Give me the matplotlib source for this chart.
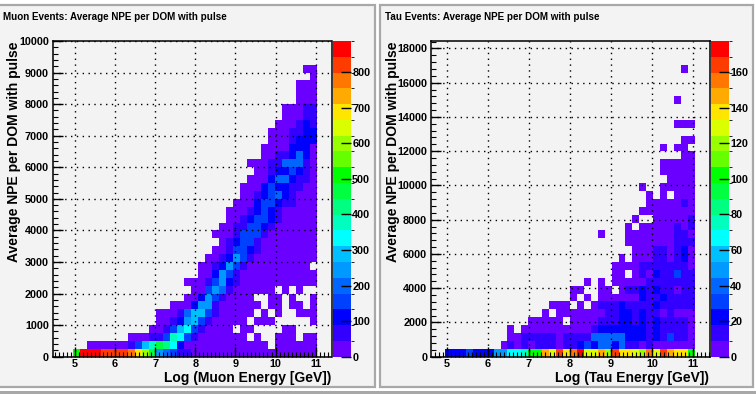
import numpy as np
import matplotlib
matplotlib.use("Agg")
import matplotlib.pyplot as plt
from matplotlib.colors import ListedColormap, BoundaryNorm
from matplotlib.patches import Rectangle
from matplotlib.ticker import MultipleLocator

W, H = 756, 394

# one char per bin = colour band (0-9 then a-j), "." = empty bin
# each row runs bottom to top, START is the first filled column of that row
MUON_START = [0, 2, 8, 11, 12, 12, 14, 16, 17, 16, 18, 18, 19, 20, 21, 20, 21, 22, 22, 23,
              24, 24, 25, 26, 25, 27, 27, 28, 28, 29, 30, 30, 32, 32, 32, 34, 33]
MUON_LEVELS = [
    "bjjjiiiihfda54311000000000000000000",
    "0000001368a972000000000000.000000",
    "00011387310000000.0..000.00",
    "001367310000.00....00...",
    "0012563100000.000.....0",
    "00014663100000.0.0..000",
    "0002551000000.00.00.0",
    "0025310000..00.0..0",
    "003541000000.0.0..",
    "0001352100000000000",
    "00253100000000000",
    "0012531000000000.",
    "0012531000000000",
    "001332100000000",
    "01233100000000",
    "000133310000000",
    "00113321000000",
    "0012332100000",
    "0001232100000",
    "000233211000",
    "00123421000",
    "00023221100",
    "0002442110",
    "001223210",
    "0001144410",
    "00112420",
    "00002220",
    "0001222",
    "0001122",
    "000121",
    "00011",
    "00011",
    "000",
    "000",
    "000",
    "0",
    "00",
]

TAU_START = [0, 8, 9, 9, 12, 14, 15, 18, 18, 20, 24, 24, 25, 27, 26, 22, 26, 27, 28, 29,
             29, 28, 32, 31, 31, 34, 31, 34, 0, 33, 0, 0, 33, 0, 0, 0, 34]
TAU_LEVELS = [
    "222322255778bbgeifhjeegdiffedheigffb",
    "0101011101123244241101000000",
    "001111101111444442221213110",
    "0.0000000000122222221211110",
    "00000.000011122121211110",
    "0.00000001122121101000",
    "000.0.011121111211111",
    "0.0.00000021121111",
    "00..00.01121211011",
    "0.0.000001111111",
    "00.010211311",
    "000011111110",
    "0.000110120",
    "000110120",
    "0000000111",
    "0...0000000110",
    "0.00000101",
    "0..000001",
    "00000000",
    "0000010",
    "0.0.000",
    "0..00000",
    "0000",
    "00000",
    "00000",
    "00",
    "0.00",
    "00",
    "",
    "000",
    "",
    "",
    "0",
    "",
    "",
    "",
    "0",
]

MUON_YTICKS = [0, 1000, 2000, 3000, 4000, 5000, 6000, 7000, 8000, 9000, 10000]
TAU_YTICKS = [0, 2000, 4000, 6000, 8000, 10000, 12000, 14000, 16000, 18000]
XTICKS = [5, 6, 7, 8, 9, 10, 11]
MUON_ZTICKS = [0, 100, 200, 300, 400, 500, 600, 700, 800]
TAU_ZTICKS = [0, 20, 40, 60, 80, 100, 120, 140, 160]

# root rainbow palette, 20 contours, bottom to top
PALETTE = ["#6a00ff", "#3300ff", "#0000ff", "#0040ff", "#0066ff", "#0099ff", "#00bfff", "#00ffff",
           "#00ffbf", "#00ff80", "#00ff40", "#00ff00", "#66ff00", "#99ff00", "#d9ff00", "#ffe600",
           "#ffaa00", "#ff7700", "#ff3c00", "#ff0000"]
LEVEL_CHARS = "0123456789abcdefghij"


def build_grid(starts, levels, zmax, ncols):
    grid = np.full((40, ncols), np.nan)
    band = zmax / 20
    for r, (start, row) in enumerate(zip(starts, levels)):
        for i, ch in enumerate(row):
            if ch != ".":
                grid[r, start + i] = (LEVEL_CHARS.index(ch) + 0.5) * band
    return grid


def px_rect(x0, y0, x1, y1):
    return [x0 / W, 1 - y1 / H, (x1 - x0) / W, (y1 - y0) / H]


def add_box(fig, x0, y0, x1, y1):
    # pad background with grey bevel, kept behind the axes
    fig.add_artist(Rectangle((x0 / W, 1 - y1 / H), (x1 - x0) / W, (y1 - y0) / H, transform=fig.transFigure,
                             facecolor="#f3f3f3", edgecolor="#a8a8a8", linewidth=1.6, zorder=-1))


def draw_panel(fig, title, title_x, xlabel, xlabel_right, ylabel_x, frame, cbar, xlim, ylim, x0, dx, dy, grid,
               yticks, yminor, zmax, zticks):
    ax = fig.add_axes(px_rect(*frame))
    ax.set_facecolor("#f3f3f3")
    cols = grid.shape[1]
    xedges = x0 + dx * np.arange(cols + 1)
    yedges = dy * np.arange(grid.shape[0] + 1)
    cmap = ListedColormap(PALETTE)
    norm = BoundaryNorm(np.linspace(0, zmax, 21), 20)
    mesh = ax.pcolormesh(xedges, yedges, grid, cmap=cmap, norm=norm, linewidth=0, antialiased=False)
    ax.set_xlim(xlim)
    ax.set_ylim(ylim)
    ax.set_xticks(XTICKS)
    ax.set_yticks(yticks)
    ax.xaxis.set_minor_locator(MultipleLocator(0.1))
    ax.yaxis.set_minor_locator(MultipleLocator(yminor))
    ax.tick_params(which="major", direction="in", length=7, width=1, pad=3, labelsize=7.8)
    ax.tick_params(which="minor", direction="in", length=3.5, width=0.8)
    ax.tick_params(axis="x", which="major", pad=1.5)
    for label in ax.get_xticklabels() + ax.get_yticklabels():
        label.set_fontweight("bold")
    ax.grid(True, which="major", color="black", linestyle=(0, (1, 3.2)), linewidth=1)
    ax.set_axisbelow(False)
    for spine in ax.spines.values():
        spine.set_linewidth(1.1)

    cax = fig.add_axes(px_rect(*cbar))
    cb = fig.colorbar(mesh, cax=cax, ticks=zticks, spacing="proportional", drawedges=False)
    cb.outline.set_visible(False)
    cax.tick_params(direction="in", length=7.5, width=1, pad=1, labelsize=7.8, right=True)
    for label in cax.get_yticklabels():
        label.set_fontweight("bold")

    fig.text(title_x / W, 1 - 17 / H, title, fontsize=7.1, fontweight="bold", ha="left", va="center")
    fig.text(xlabel_right / W, 1 - 378 / H, xlabel, fontsize=10, fontweight="bold", ha="right", va="center")
    fig.text(ylabel_x / W, 1 - 152 / H, "Average NPE per DOM with pulse", fontsize=10, fontweight="bold",
             rotation=90, ha="center", va="center")


plt.rcParams["font.family"] = ["Liberation Sans", "DejaVu Sans"]

fig = plt.figure(figsize=(W / 100, H / 100), dpi=100, facecolor="#ffffff")
fig.add_artist(Rectangle((0, 0), 1, 3 / H, transform=fig.transFigure, facecolor="#a8a8a8", edgecolor="none", zorder=-1))
add_box(fig, -2, 4.5, 374.5, 387)
add_box(fig, 380, 4.5, 752.5, 387)

MUON_ZMAX = 887
TAU_ZMAX = 177.4
muon_grid = build_grid(MUON_START, MUON_LEVELS, MUON_ZMAX, 35)
tau_grid = build_grid(TAU_START, TAU_LEVELS, TAU_ZMAX, 36)

draw_panel(fig, "Muon Events: Average NPE per DOM with pulse", 3, "Log (Muon Energy [GeV])", 331.5, 14,
           (53, 41, 331.5, 356.7), (333, 41, 350.8, 356.7), (4.451, 11.396), (0, 10000),
           4.943, 0.1738, 250, muon_grid, MUON_YTICKS, 200, MUON_ZMAX, MUON_ZTICKS)
draw_panel(fig, "Tau Events: Average NPE per DOM with pulse", 385, "Log (Tau Energy [GeV])", 709, 393,
           (431.3, 41, 709.7, 356.7), (711.3, 41, 728.8, 356.7), (4.617, 11.407), (0, 18432),
           4.951, 0.1693, 460.8, tau_grid, TAU_YTICKS, 400, TAU_ZMAX, TAU_ZTICKS)

fig.savefig("out.png", dpi=100, facecolor=fig.get_facecolor())
